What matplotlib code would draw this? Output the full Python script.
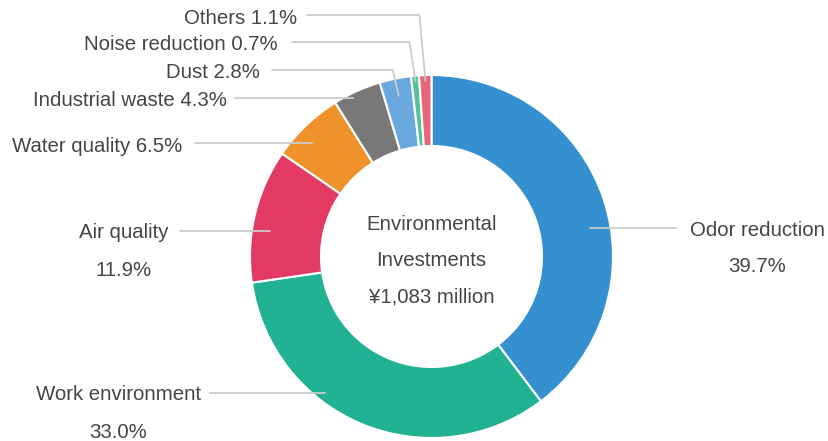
import numpy as np
import matplotlib.pyplot as plt

# Environmental investment breakdown (percent of total)
categories = [
    "Odor reduction",
    "Work environment",
    "Air quality",
    "Water quality",
    "Industrial waste",
    "Dust",
    "Noise reduction",
    "Others",
]
shares = [39.7, 33.0, 11.9, 6.5, 4.3, 2.8, 0.7, 1.1]
colors = [
    "#3590d0", "#20b292", "#e23a62", "#ef922b",
    "#787878", "#6aa9de", "#55c09a", "#e8667a",
]
center_lines = ["Environmental", "Investments", "¥1,083 million"]

# label layout in pixels (origin top-left)
W, H = 829, 441
CX, CY = 431.5, 256.5
R_OUT, R_IN = 181.5, 110.5

# style: "stack" = name with value underneath, "side" = one line, horizontal leader,
# "elbow" = one line, leader bends down into the wedge
label_style = ["stack", "stack", "stack", "side", "side", "elbow", "elbow", "elbow"]
label_x = [757.5, 118.5, 124, 182, 227, 260, 278, 297]
label_y = [228, 393, 231, 143, 98, 70, 42, 15]
line_from_x = [676, 210, 180, 195, 235, 272, 292, 307]
leader_r = [161, 173, 163.5, 165, 177, 164, 176, 176]

TEXT = "#454545"
LINE = "#cccccc"
FONT = "Liberation Sans"
FS = 14.7

plt.rcParams["font.family"] = [FONT, "DejaVu Sans"]

fig = plt.figure(figsize=(W / 100, H / 100), dpi=100)
ax = fig.add_axes([0, 0, 1, 1])


def up(y):
    return H - y


ax.pie(
    shares,
    colors=colors,
    startangle=90,
    counterclock=False,
    radius=R_OUT,
    center=(CX, up(CY)),
    wedgeprops=dict(width=R_OUT - R_IN, edgecolor="white", linewidth=1.5),
)

# mid angle of every wedge, clockwise from 12 o'clock
cum = np.cumsum([0] + shares[:-1])
mid_deg = 90 - (cum + np.array(shares) / 2) * 3.6

for name, share, style, tx, ly, lx, r, th in zip(
    categories, shares, label_style, label_x, label_y, line_from_x, leader_r, mid_deg
):
    right_side = np.cos(np.radians(th)) > 0
    if style == "elbow":
        ax_ = CX + r * np.cos(np.radians(th))
        ay_ = up(CY) + r * np.sin(np.radians(th))
        xs = [lx, ax_ - 6, ax_]
        ys = [up(ly), up(ly), ay_]
    else:
        dy = up(ly) - up(CY)
        dx = np.sqrt(max(r ** 2 - dy ** 2, 0))
        end_x = CX + dx if right_side else CX - dx
        xs = [lx, end_x]
        ys = [up(ly), up(ly)]
    ax.plot(xs, ys, color=LINE, lw=1.3, solid_capstyle="round", zorder=3)

    if style == "stack":
        ax.text(tx, up(ly + 2), name, ha="center", va="center", fontsize=FS, color=TEXT)
        ax.text(tx, up(ly + 39), f"{share:.1f}%", ha="center", va="center",
                fontsize=FS, color=TEXT)
    else:
        ax.text(tx, up(ly + 3), f"{name} {share:.1f}%", ha="right", va="center",
                fontsize=FS, color=TEXT)

for i, line in enumerate(center_lines):
    ax.text(CX, up(225 + i * 36), line, ha="center", va="center", fontsize=FS, color=TEXT)

ax.set_xlim(0, W)
ax.set_ylim(0, H)
ax.set_aspect("equal", adjustable="box")
ax.axis("off")

fig.savefig("out.png", dpi=100, facecolor="white")
